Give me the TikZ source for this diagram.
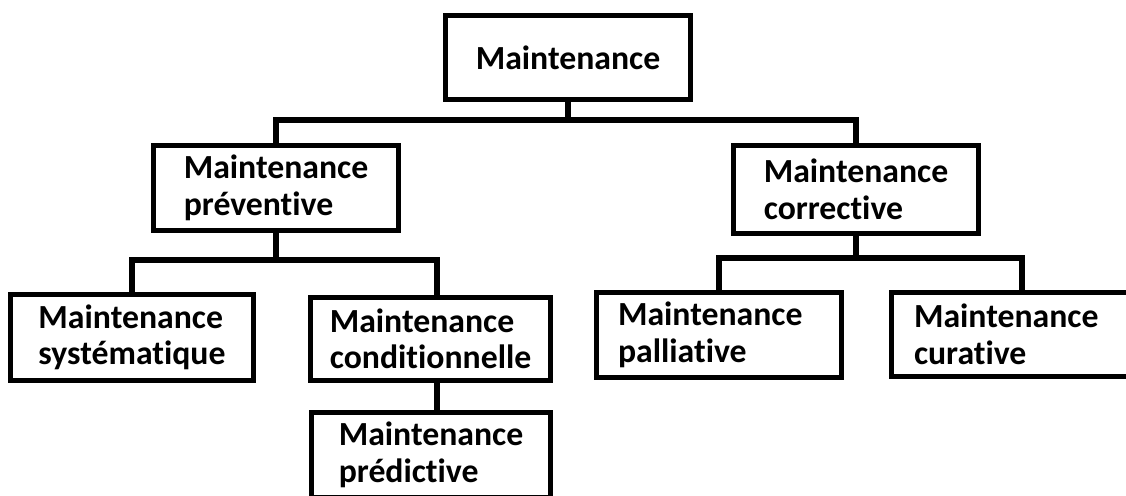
\documentclass[tikz,border=0pt]{standalone}
\usepackage{fontspec}
\setmainfont{Carlito}[Ligatures={NoCommon, NoContextual}]
\usepackage{tikz}
\tikzset{box/.style={draw, line width=3pt, inner sep=0pt, align=left, font=\fontsize{19.2}{20.8}\selectfont\bfseries}}
\tikzset{branch/.style={line width=3pt}}

\begin{document}
\begin{tikzpicture}[x=0.02cm, y=-0.02cm]
            \clip (0, 0) rectangle (1126, 495);

            \node [box, minimum width=4.9cm, minimum height=1.68cm] (Mroot) at (568, 57.5) {Maintenance};

            \node [box, minimum width=4.9cm, minimum height=1.7cm] (Mprev) at (276, 188) {Maintenance\\préventive};
            \node [box, minimum width=4.9cm, minimum height=1.76cm] (Mcorr) at (856, 189.5) {Maintenance\\corrective};

            \node [box, minimum width=4.86cm, minimum height=1.72cm] (Msyst) at (132, 337.5) {Maintenance\\systématique};
            \node [box, minimum width=4.8cm, minimum height=1.66cm] (Mcond) at (430.5, 339) {Maintenance\\conditionnelle};
            \node [box, minimum width=4.78cm, minimum height=1.7cm] (Mpred) at (431, 455) {Maintenance\\prédictive};
            \node [box, inner xsep=0.43cm, text width=4.04cm, minimum height=1.7cm] (Mpall) at (719, 335) {Maintenance\\palliative};
            \node [box, inner xsep=0.45cm, text width=4.32cm, minimum height=1.68cm] (Mcur) at (1022, 334.5) {Maintenance\\curative};

            \coordinate (Jroot) at (568, 120);
            \coordinate (Jprev) at (437, 260);
            \coordinate (Jcorr) at (858, 258);

            \draw [branch] (Mroot.south) -- (Jroot);
            \draw [branch] (Mprev.north) |- (Jroot) -| (Mcorr.north);

            \draw [branch] (Mprev.south) -- (Mprev.south |- Jprev);
            \draw [branch] (Msyst.north) |- (Jprev) -- (Jprev |- Mcond.north);
            \draw [branch] (Mcond.south -| Jprev) -- (Mpred.north -| Jprev);

            \draw [branch] (Mcorr.south) -- (Mcorr.south |- Jcorr);
            \draw [branch] (Mpall.north) |- (Jcorr) -| (Mcur.north);
        \end{tikzpicture}
\end{document}
